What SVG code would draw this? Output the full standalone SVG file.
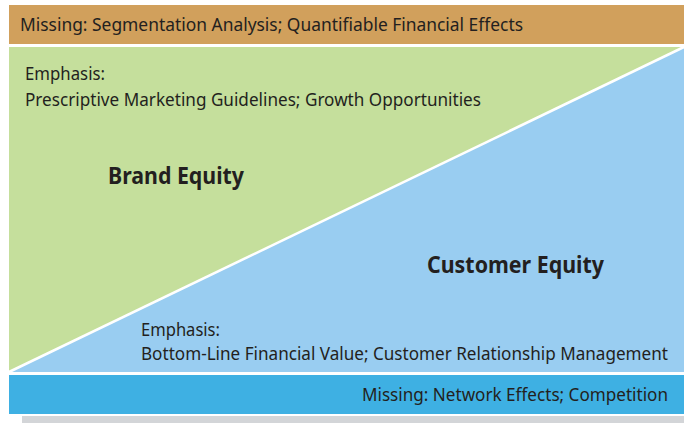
<svg xmlns="http://www.w3.org/2000/svg" width="684" height="423" viewBox="0 0 684 423">
<style>
.t{font-family:"Noto Sans","Open Sans","DejaVu Sans",sans-serif;font-size:18.5px;fill:#231f20}
.b{font-family:"Noto Sans","Open Sans","DejaVu Sans",sans-serif;font-size:22.5px;font-weight:bold;fill:#231f20}
</style>
<rect x="0" y="0" width="684" height="423" fill="#ffffff"/>
<rect x="22" y="416" width="662" height="7" fill="#d3d5d8"/>
<g id="top-bar">
<rect x="9" y="5" width="675" height="39" fill="#d1a05c"/>
<text class="t" x="20" y="31" textLength="503" lengthAdjust="spacingAndGlyphs">Missing: Segmentation Analysis; Quantifiable Financial Effects</text>
</g>
<g id="brand-equity">
<polygon points="9,47 684,47 9,372" fill="#c5df9c"/>
</g>
<g id="customer-equity">
<polygon points="684,47 684,372 9,372" fill="#99cdf1"/>
</g>
<g id="connectors">
<line x1="9" y1="372" x2="684" y2="47" stroke="#ffffff" stroke-width="2.5"/>
</g>
<g id="brand-text">
<text class="t" x="25" y="80" textLength="80" lengthAdjust="spacingAndGlyphs">Emphasis:</text>
<text class="t" x="25" y="106" textLength="456" lengthAdjust="spacingAndGlyphs">Prescriptive Marketing Guidelines; Growth Opportunities</text>
<text class="b" x="108" y="184" textLength="136" lengthAdjust="spacingAndGlyphs">Brand Equity</text>
</g>
<g id="customer-text">
<text class="b" x="427" y="273" textLength="177" lengthAdjust="spacingAndGlyphs">Customer Equity</text>
<text class="t" x="141" y="336" textLength="79" lengthAdjust="spacingAndGlyphs">Emphasis:</text>
<text class="t" x="141" y="360" textLength="527" lengthAdjust="spacingAndGlyphs">Bottom-Line Financial Value; Customer Relationship Management</text>
</g>
<g id="bottom-bar">
<rect x="9" y="375" width="675" height="39" fill="#3eb0e3"/>
<text class="t" x="362" y="401" textLength="306" lengthAdjust="spacingAndGlyphs">Missing: Network Effects; Competition</text>
</g>
</svg>
